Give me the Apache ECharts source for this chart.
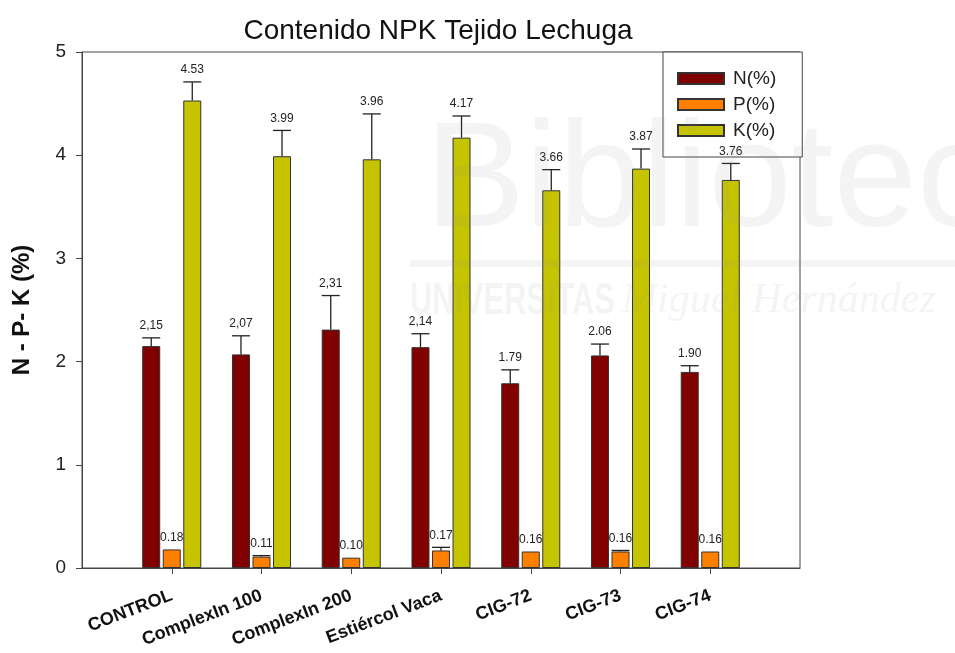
<!DOCTYPE html>
<html>
<head>
<meta charset="utf-8">
<script src="https://cdn.jsdelivr.net/npm/echarts@6/dist/echarts.min.js"></script>
<style>
  html, body { margin: 0; padding: 0; background: #fff; }
  #chart { width: 955px; height: 653px; }
</style>
</head>
<body>
<div id="chart"></div>
<script>
  // blank entries at both ends pad the axis like the original plot
  const categories = ['', 'CONTROL', 'ComplexIn 100', 'ComplexIn 200', 'Estiércol Vaca', 'CIG-72', 'CIG-73', 'CIG-74', '']

  const nValues = [2.15, 2.07, 2.31, 2.14, 1.79, 2.06, 1.90]
  const pValues = [0.18, 0.11, 0.10, 0.17, 0.16, 0.16, 0.16]
  const kValues = [4.53, 3.99, 3.96, 4.17, 3.66, 3.87, 3.76]

  const nErrors = [0.08, 0.18, 0.33, 0.13, 0.13, 0.11, 0.06]
  const pErrors = [0, 0.01, 0, 0.03, 0, 0.01, 0]
  const kErrors = [0.18, 0.25, 0.44, 0.21, 0.20, 0.19, 0.16]

  const nLabels = ['2,15', '2,07', '2,31', '2,14', '1.79', '2.06', '1.90']
  const pLabels = ['0.18', '0.11', '0.10', '0.17', '0.16', '0.16', '0.16']
  const kLabels = ['4.53', '3.99', '3.96', '4.17', '3.66', '3.87', '3.76']

  const FONT = 'Liberation Sans, Arial, sans-serif'
  const BAR_W = 18
  const GAP = 0.14
  const WM = 'rgba(150,150,150,0.1)'

  const chart = echarts.init(document.getElementById('chart'))

  function barData(values) {
    return values.map((v, i) => [i + 1, v])
  }

  function errorSeries(values, errors, labels, offset) {
    return {
      type: 'custom',
      z: 5,
      silent: true,
      data: values.map((v, i) => [i + 1, v, errors[i]]),
      renderItem(params, api) {
        const i = api.value(0)
        const v = api.value(1)
        const e = api.value(2)
        const base = api.coord([i, v])
        const top = api.coord([i, v + e])
        const x = base[0] + offset
        const children = []
        if (e > 0) {
          const style = { stroke: '#222', lineWidth: 1.3 }
          children.push({ type: 'line', shape: { x1: x, y1: base[1], x2: x, y2: top[1] }, style })
          children.push({ type: 'line', shape: { x1: x - BAR_W / 2, y1: top[1], x2: x + BAR_W / 2, y2: top[1] }, style })
        }
        children.push({
          type: 'text',
          x: x,
          y: top[1] - 6,
          style: {
            text: labels[params.dataIndex],
            fill: '#222',
            font: '12px ' + FONT,
            align: 'center',
            verticalAlign: 'bottom',
          },
        })
        return { type: 'group', children }
      },
    }
  }

  const step = BAR_W * (1 + GAP)

  const barCommon = {
    type: 'bar',
    barWidth: BAR_W,
    barGap: GAP * 100 + '%',
    z: 2,
  }

  chart.setOption({
    animation: false,
    title: {
      text: 'Contenido NPK Tejido Lechuga',
      left: 433,
      textAlign: 'center',
      top: 12,
      textStyle: { fontFamily: FONT, fontSize: 28, fontWeight: 'normal', color: '#111' },
    },
    grid: {
      left: 82,
      right: 155,
      top: 52,
      bottom: 85,
      show: true,
      borderColor: '#444',
      borderWidth: 1,
      backgroundColor: 'transparent',
    },
    legend: {
      left: 663,
      top: 52,
      orient: 'vertical',
      itemWidth: 46,
      itemHeight: 11,
      itemGap: 7,
      padding: [17, 26, 17, 14],
      borderColor: '#444',
      borderWidth: 1,
      backgroundColor: '#fff',
      icon: 'rect',
      textStyle: { fontFamily: FONT, fontSize: 19, color: '#222', padding: [0, 0, 0, 4] },
      data: ['N(%)', 'P(%)', 'K(%)'],
    },
    xAxis: {
      type: 'category',
      data: categories,
      boundaryGap: false,
      axisLine: { lineStyle: { color: '#444', width: 1 } },
      axisTick: {
        length: 6,
        interval: (idx, val) => val !== '',
        lineStyle: { color: '#444' },
      },
      axisLabel: {
        interval: 0,
        rotate: 21,
        margin: 27,
        fontFamily: FONT,
        fontSize: 18,
        fontWeight: 'bold',
        color: '#111',
      },
    },
    yAxis: {
      type: 'value',
      min: 0,
      max: 5,
      interval: 1,
      name: 'N - P- K (%)',
      nameLocation: 'middle',
      nameGap: 48,
      nameTextStyle: { fontFamily: FONT, fontSize: 24, fontWeight: 'bold', color: '#111' },
      axisLine: { show: true, lineStyle: { color: '#444', width: 1 } },
      axisTick: { show: true, length: 6, lineStyle: { color: '#444' } },
      axisLabel: { margin: 16, fontFamily: FONT, fontSize: 19, color: '#222' },
      splitLine: { show: false },
    },
    graphic: [
      {
        type: 'text',
        z: 100,
        silent: true,
        x: 425,
        y: 110,
        style: { text: 'Biblioteca', font: '150px ' + FONT, fill: WM },
      },
      {
        type: 'rect',
        z: 100,
        silent: true,
        shape: { x: 410, y: 260, width: 545, height: 7 },
        style: { fill: WM },
      },
      {
        type: 'text',
        z: 100,
        silent: true,
        x: 410,
        y: 280,
        scaleX: 0.7,
        style: { text: 'UNIVERSITAS', font: 'bold 44px ' + FONT, fill: WM },
      },
      {
        type: 'text',
        z: 100,
        silent: true,
        x: 622,
        y: 280,
        style: { text: 'Miguel Hernández', font: 'italic 42px Liberation Serif, serif', fill: WM },
      },
    ],
    series: [
      Object.assign({}, barCommon, {
        name: 'N(%)',
        data: barData(nValues),
        itemStyle: { color: '#800000', borderColor: '#333', borderWidth: 1 },
      }),
      Object.assign({}, barCommon, {
        name: 'P(%)',
        data: barData(pValues),
        itemStyle: { color: '#ff8000', borderColor: '#333', borderWidth: 1 },
      }),
      Object.assign({}, barCommon, {
        name: 'K(%)',
        data: barData(kValues),
        itemStyle: { color: '#c6c300', borderColor: '#333', borderWidth: 1 },
      }),
      errorSeries(nValues, nErrors, nLabels, -step),
      errorSeries(pValues, pErrors, pLabels, 0),
      errorSeries(kValues, kErrors, kLabels, step),
    ],
  })
</script>
</body>
</html>
